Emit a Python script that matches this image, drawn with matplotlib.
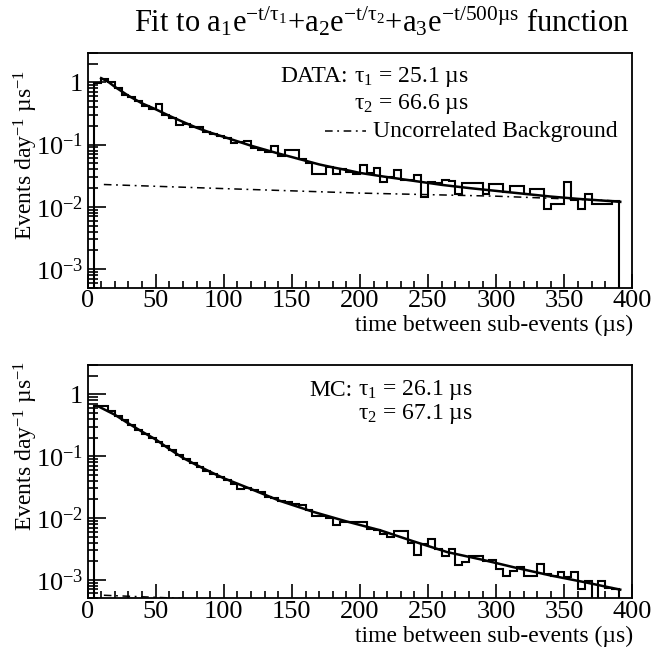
import numpy as np
import matplotlib
matplotlib.use("Agg")
import matplotlib.pyplot as plt
from matplotlib.ticker import MultipleLocator, LogLocator, NullFormatter

plt.rcParams['font.family'] = ['Liberation Serif', 'DejaVu Serif']
plt.rcParams['mathtext.fontset'] = 'custom'
plt.rcParams['mathtext.rm'] = 'Liberation Serif'
plt.rcParams['mathtext.it'] = 'Liberation Serif'
plt.rcParams['mathtext.bf'] = 'Liberation Serif:bold'

# 5 us bins from 5 to 390 us
bin_edges = np.arange(5, 395, 5)

data_hist = [0.98, 1.15, 1.02, 0.80, 0.63, 0.58, 0.50, 0.42, 0.38, 0.45,
             0.30, 0.27, 0.207, 0.215, 0.19, 0.19, 0.16, 0.15, 0.137, 0.128,
             0.105, 0.108, 0.115, 0.088, 0.082, 0.076, 0.095, 0.066, 0.082, 0.082,
             0.058, 0.050, 0.034, 0.034, 0.043, 0.034, 0.040, 0.036, 0.034, 0.047,
             0.035, 0.042, 0.025, 0.030, 0.039, 0.027, 0.027, 0.033, 0.0144, 0.025,
             0.0237, 0.027, 0.026, 0.0163, 0.0245, 0.0245, 0.0245, 0.0163, 0.0233, 0.0233,
             0.0174, 0.0214, 0.0214, 0.0159, 0.0192, 0.0192, 0.0091, 0.0112, 0.0112, 0.025,
             0.0127, 0.0091, 0.0163, 0.0112, 0.0112, 0.0112, 0.0124]

mc_hist = [0.65, 0.64, 0.53, 0.45, 0.38, 0.32, 0.27, 0.23, 0.197, 0.170,
           0.145, 0.124, 0.105, 0.089, 0.077, 0.066, 0.058, 0.051, 0.046, 0.041,
           0.036, 0.029, 0.030, 0.028, 0.026, 0.022, 0.021, 0.019, 0.0178, 0.0167,
           0.0163, 0.0135, 0.0108, 0.0108, 0.0099, 0.0077, 0.0085, 0.0087, 0.0087, 0.0087,
           0.0066, 0.0065, 0.0055, 0.0049, 0.0062, 0.0062, 0.0039, 0.0025, 0.0038, 0.0046,
           0.0032, 0.0024, 0.0032, 0.0017, 0.0019, 0.0024, 0.0024, 0.0020, 0.0021, 0.0015,
           0.00113, 0.0014, 0.0016, 0.00116, 0.00116, 0.00178, 0.00124, 0.00113, 0.00135, 0.0011,
           0.00135, 0.00071, 0.00096, 0.0004, 0.00096, 0.00074, 0.00071]

# fitted curves
data_fit_t = [10, 15, 20, 25, 30, 40, 50, 60, 70, 80, 90, 100, 110, 120, 130, 140,
              150, 160, 170, 180, 190, 200, 220, 240, 260, 280, 300, 320, 340, 360, 380, 391]
data_fit_v = [1.17, 1.03, 0.85, 0.72, 0.61, 0.46, 0.37, 0.29, 0.232, 0.187, 0.156, 0.133,
              0.113, 0.096, 0.083, 0.072, 0.063, 0.055, 0.048, 0.043, 0.039, 0.035,
              0.030, 0.026, 0.0225, 0.020, 0.018, 0.0162, 0.0146, 0.0134, 0.0125, 0.0120]
data_bg_t = [12, 100, 200, 300, 391]
data_bg_v = [0.0228, 0.0196, 0.0166, 0.0148, 0.0124]

mc_fit_t = [8, 20, 30, 40, 50, 60, 70, 80, 90, 100, 120, 141, 166, 190, 215, 239,
            264, 290, 315, 340, 364, 391]
mc_fit_v = [0.64, 0.47, 0.34, 0.25, 0.187, 0.131, 0.094, 0.072, 0.056, 0.044, 0.0294,
            0.019, 0.0125, 0.0088, 0.0063, 0.0042, 0.0028, 0.0021, 0.00155, 0.00117,
            0.00092, 0.00069]
mc_bg_t = [12, 391]
mc_bg_v = [5.6e-4, 2.6e-4]

W, H = 652, 656
BGSTYLE = (0, (5, 3, 1.2, 3))


def px(x, y):
    return x / W, 1 - y / H


def setup_axis(ax):
    ax.set_yscale('log')
    ax.set_xlim(0, 400)
    ax.set_ylim(5e-4, 3)
    ax.xaxis.set_major_locator(MultipleLocator(50))
    ax.xaxis.set_minor_locator(MultipleLocator(10))
    ax.yaxis.set_minor_locator(LogLocator(base=10, subs=np.arange(2, 10), numticks=10))
    ax.yaxis.set_minor_formatter(NullFormatter())
    ax.set_yticks([1e-3, 1e-2, 1e-1, 1])
    ax.set_yticklabels([r'$10^{-3}$', r'$10^{-2}$', r'$10^{-1}$', '1'])
    ax.tick_params(which='both', direction='in', top=False, right=False,
                   labelsize=19, width=1.2)
    ax.tick_params(axis='x', which='major', length=10, pad=2)
    ax.tick_params(axis='x', which='minor', length=5)
    ax.tick_params(axis='y', which='major', length=13, pad=3)
    ax.tick_params(axis='y', which='minor', length=7)
    for s in ax.spines.values():
        s.set_linewidth(1.3)


def draw_panel(ax, hist, fit_t, fit_v, bg_t, bg_v):
    setup_axis(ax)
    ax.stairs(hist, bin_edges, baseline=1e-6, color='black', lw=1.5)
    ax.plot(fit_t, fit_v, color='black', lw=1.8)
    ax.plot(bg_t, bg_v, color='black', lw=1.1, linestyle=BGSTYLE)


fig = plt.figure(figsize=(W / 100, H / 100), dpi=100)
ax1 = fig.add_axes([87.5 / W, 1 - 287.7 / H, 545 / W, 235 / H])
ax2 = fig.add_axes([87.5 / W, 1 - 598.3 / H, 545 / W, 233.3 / H])

draw_panel(ax1, data_hist, data_fit_t, data_fit_v, data_bg_t, data_bg_v)
draw_panel(ax2, mc_hist, mc_fit_t, mc_fit_v, mc_bg_t, mc_bg_v)

ylab = r'Events day$^{-1}$ µs$^{-1}$'
for yb in (287.7, 598.3):
    fig.text(*px(633, yb + 38), 'time between sub-events (µs)', ha='right',
             va='center', fontsize=17)
fig.text(*px(26, 155), ylab, rotation=90, ha='center', va='center', fontsize=17)
fig.text(*px(26, 446), ylab, rotation=90, ha='center', va='center', fontsize=17)

# title
fig.text(*px(382, 22),
         r'Fit to a$_1$e$^{\mathrm{-t/τ_1}}$+a$_2$e$^{\mathrm{-t/τ_2}}$+a$_3$e$^{\mathrm{-t/500µs}}$ function',
         ha='center', va='center', fontsize=22)

# annotations
fig.text(*px(348, 77), 'DATA:', ha='right', va='center', fontsize=17)
fig.text(*px(469, 77), r'$\mathrm{τ_1}$ = 25.1 µs', ha='right', va='center', fontsize=17)
fig.text(*px(469, 104), r'$\mathrm{τ_2}$ = 66.6 µs', ha='right', va='center', fontsize=17)
fig.text(*px(373, 132), 'Uncorrelated Background', ha='left', va='center', fontsize=17)
fig.add_artist(plt.Line2D([325 / W, 366 / W], [1 - 131 / H, 1 - 131 / H],
                          color='black', lw=1.1, linestyle=BGSTYLE))

fig.text(*px(352, 390), 'MC:', ha='right', va='center', fontsize=17)
fig.text(*px(473, 390), r'$\mathrm{τ_1}$ = 26.1 µs', ha='right', va='center', fontsize=17)
fig.text(*px(473, 414), r'$\mathrm{τ_2}$ = 67.1 µs', ha='right', va='center', fontsize=17)

fig.savefig('out.png', dpi=100)
